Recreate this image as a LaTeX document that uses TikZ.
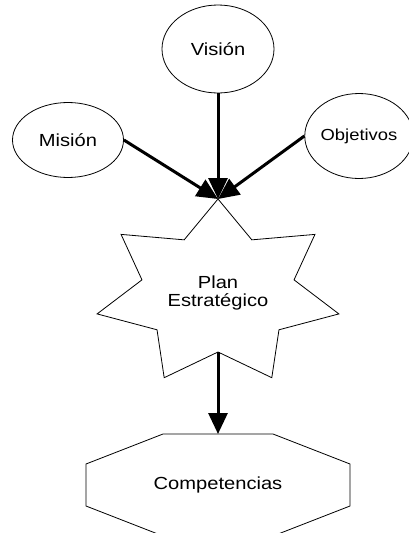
\documentclass[tikz,border=0pt]{standalone}
\usepackage{fontspec}
\setmainfont{Liberation Sans}[FakeStretch=1.15]
\usetikzlibrary{arrows.meta,shapes.geometric,calc}

\begin{document}
\begin{tikzpicture}[x=1pt, y=-1pt,
    idea/.style={ellipse, draw, line width=0.8pt, inner sep=0pt,
                 font=\fontsize{17.5}{18}\selectfont},
    txt/.style={inner sep=0pt, align=center, font=\fontsize{17.5}{18}\selectfont},
    outline/.style={draw, line width=0.8pt, line join=miter},
    flow/.style={line width=3pt, -{Triangle[length=21pt, width=19pt]}}
  ]
  \useasboundingbox (0,0) rectangle (409,533);

  \node[idea, minimum width=112pt, minimum height=88pt] (vision) at (218,49) {Visión};
  \node[idea, minimum width=111pt, minimum height=75pt] (mision) at (68,140) {Misión};
  \node[idea, minimum width=106pt, minimum height=85pt,
        font=\fontsize{16}{18}\selectfont] (objetivos) at (359,136) {Objetivos};

  % seven-point star
  \coordinate (plancenter) at (218,293);
  \draw[outline] ($(plancenter)+(-90:124 and 94)$)
    \foreach \k in {0,...,5} {
      -- ($(plancenter)+(-64.29+51.43*\k:78 and 59)$)
      -- ($(plancenter)+(-38.57+51.43*\k:124 and 94)$)
    } -- ($(plancenter)+(244.29:78 and 59)$) -- cycle;
  \coordinate (plantop) at (218,199);
  \coordinate (planbottom) at (218,352);
  \node[txt] (plan) at (plancenter) {Plan\\Estratégico};

  % octagon
  \coordinate (compcenter) at (218,485);
  \draw[outline] ($(compcenter)+(-55,-51)$) -- ++(110,0) -- ++(77,30) -- ++(0,42)
    -- ++(-77,30) -- ++(-110,0) -- ++(-77,-30) -- ++(0,-42) -- cycle;
  \coordinate (comptop) at (218,434);
  \node[txt] (comp) at (compcenter) {Competencias};

  \draw[flow] (vision.south) -- (plantop);
  \draw[flow] (mision.east) -- (plantop);
  \draw[flow] (objetivos.west) -- (plantop);
  \draw[flow] (planbottom) -- (comptop);
\end{tikzpicture}
\end{document}
